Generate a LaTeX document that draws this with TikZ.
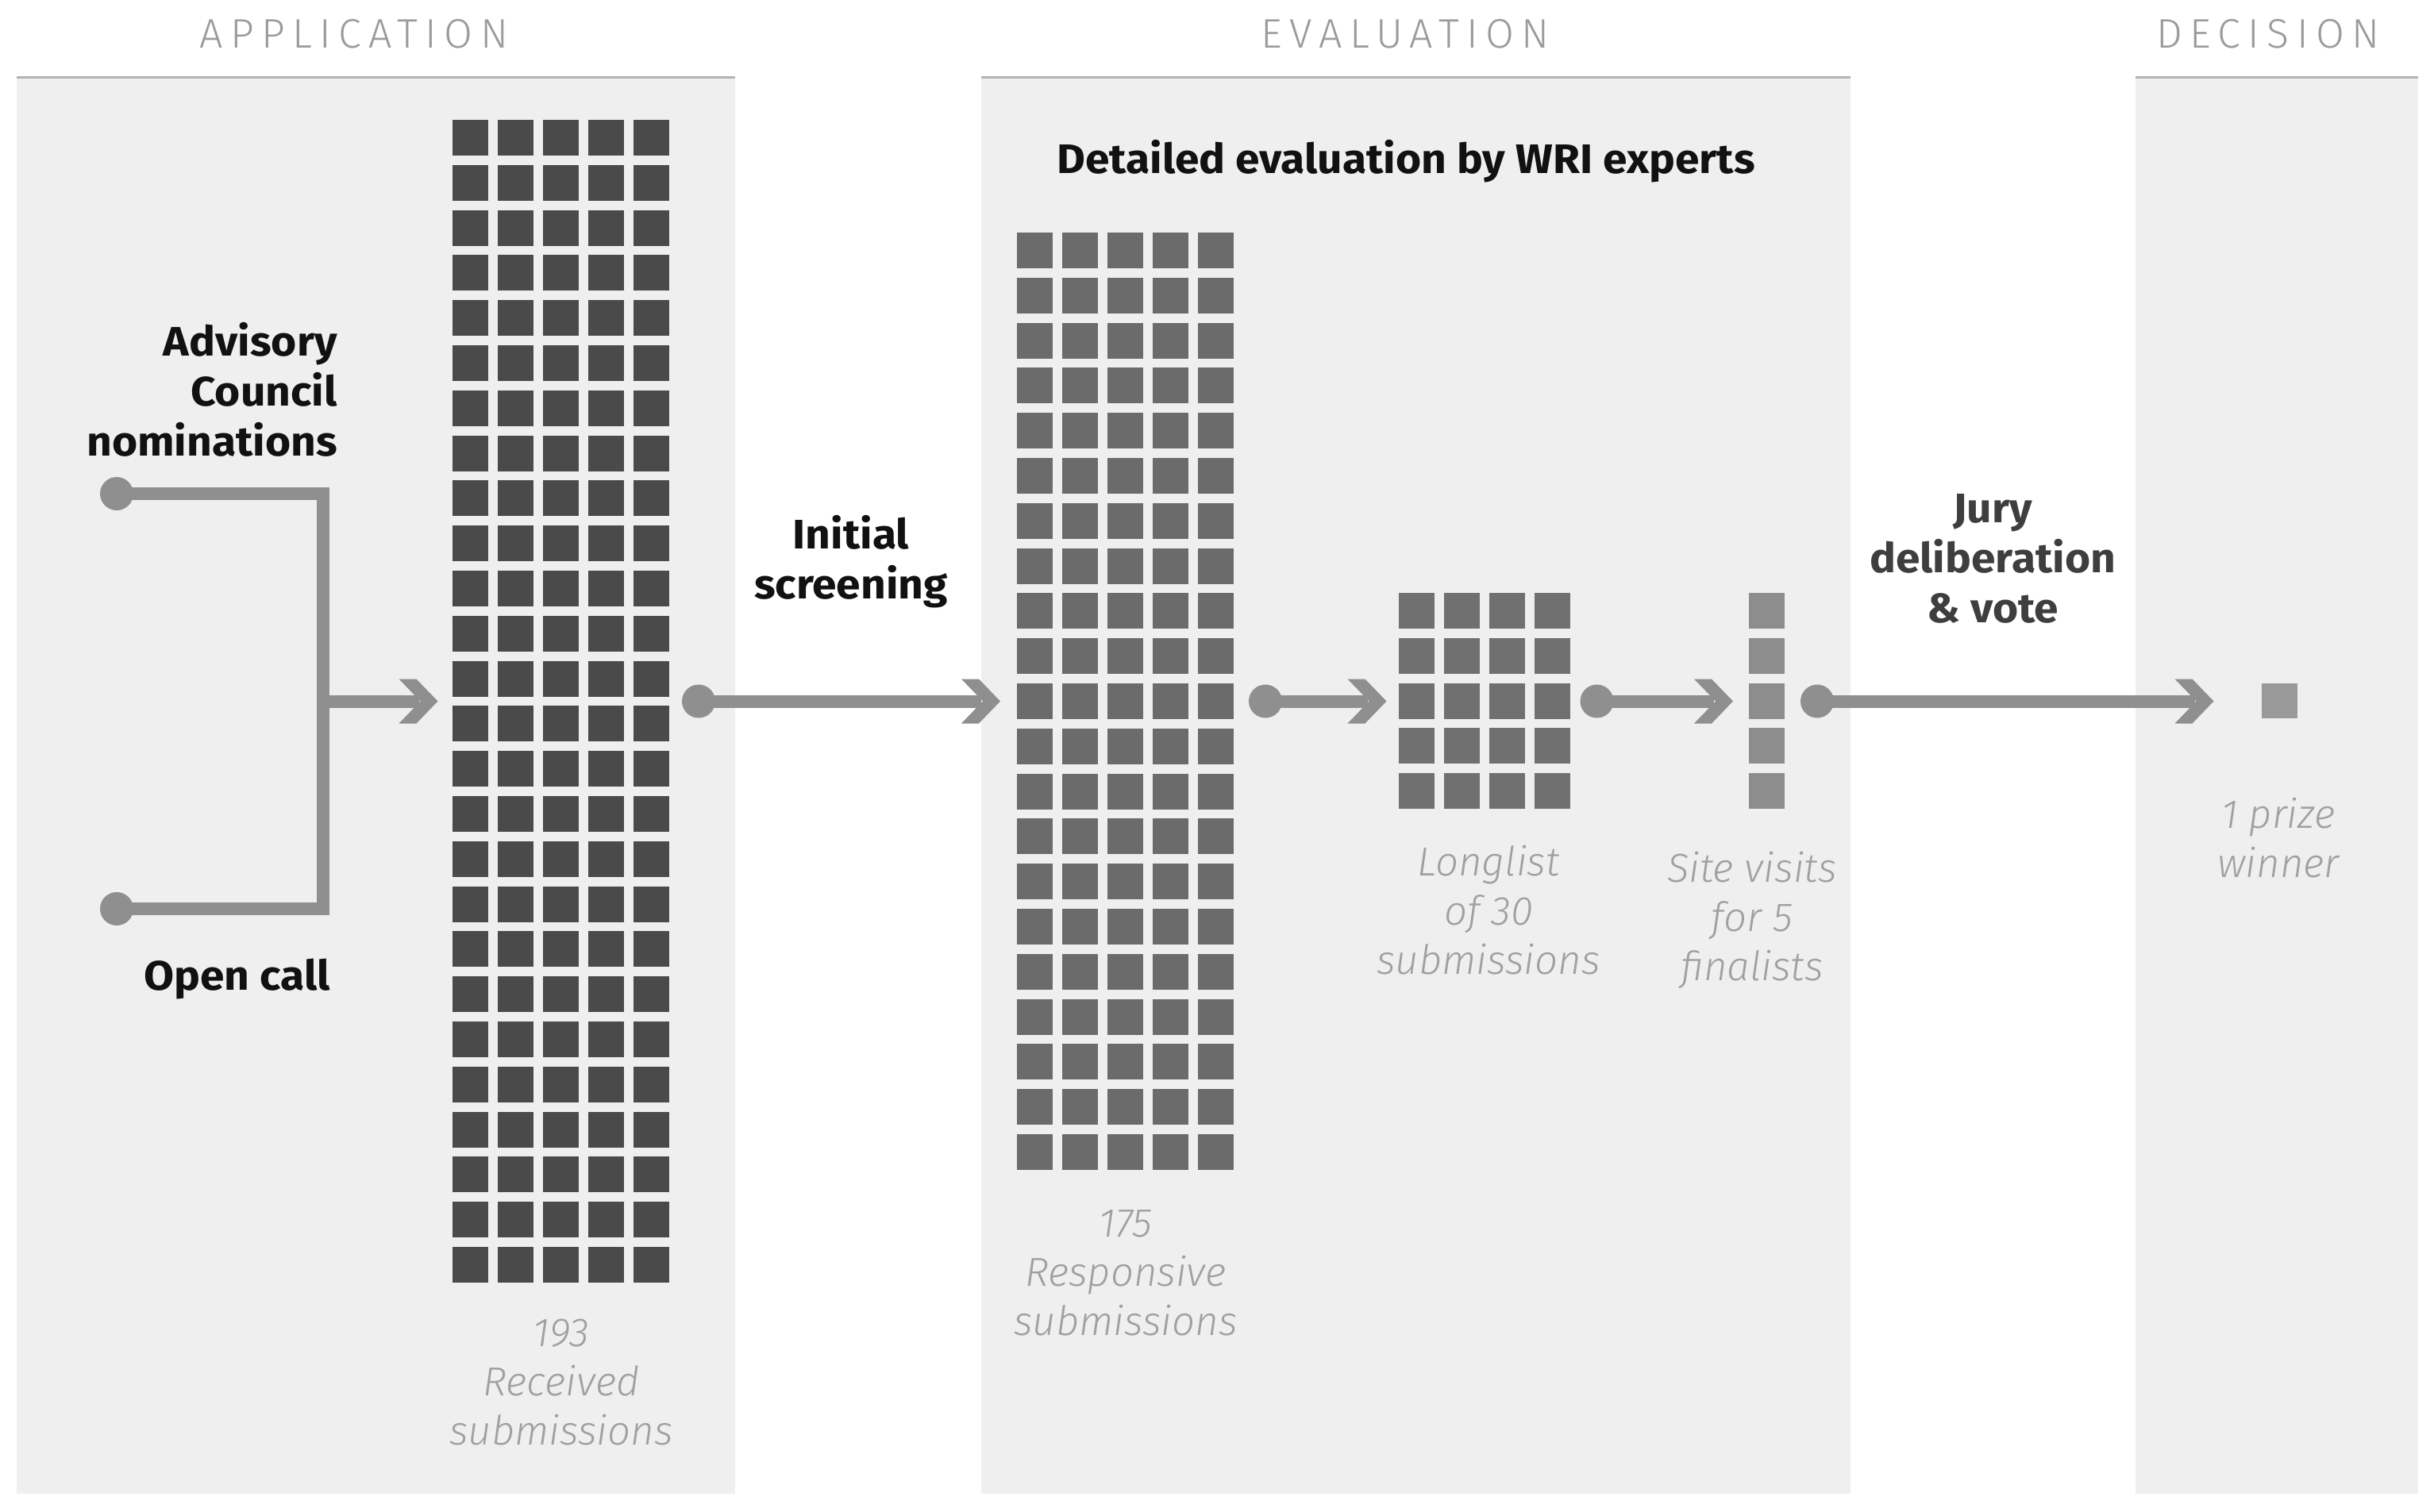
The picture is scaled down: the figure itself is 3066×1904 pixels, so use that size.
\documentclass[tikz,border=0pt]{standalone}
\usepackage{fontspec}
\setmainfont{Fira Sans}
\newfontfamily\hdrfont{Fira Sans Light}[LetterSpace=18]
\newfontfamily\bfont{Fira Sans Bold}[FakeStretch=1.06]
\newfontfamily\itfont{Fira Sans Light Italic}
\definecolor{panelbg}{HTML}{EFEFEF}
\definecolor{linegrey}{HTML}{B3B3B3}
\definecolor{hdrgrey}{HTML}{9B9B9B}
\definecolor{gA}{HTML}{4A4A4A}
\definecolor{gB}{HTML}{6B6B6B}
\definecolor{gC}{HTML}{707070}
\definecolor{gD}{HTML}{8D8D8D}
\definecolor{gE}{HTML}{999999}
\definecolor{arrowgrey}{HTML}{8F8F8F}
\definecolor{lblack}{HTML}{111111}
\definecolor{jurygrey}{HTML}{3E3E3E}
\definecolor{itgrey}{HTML}{A0A0A0}
\newcommand\sqgrid[5]{%
  \foreach \ci in {0,...,#3}{\foreach \ri in {0,...,#4}{%
    \fill[#5] ({#1+57*\ci},{#2+56.8*\ri}) rectangle ++(45,45);}}}
\newcommand\chev[1]{%
  \fill[arrowgrey, shift={(#1)}] (-49,-28) -- (-27,-28) -- (0,0) -- (-27,28) -- (-49,28) -- (-22,0) -- cycle;}
\begin{document}
\begin{tikzpicture}[x=1pt,y=-1pt,
  topline/.style={draw=linegrey, line width=3pt},
  flow/.style={draw=arrowgrey, line width=16pt, line join=miter},
  dotnode/.style={circle, fill=arrowgrey, minimum size=42pt, inner sep=0pt},
  hdr/.style={font=\hdrfont\fontsize{52}{60}\selectfont, text=hdrgrey, anchor=base, inner sep=0pt},
  blab/.style={font=\bfont\fontsize{52}{63}\selectfont, text=lblack, anchor=base, inner sep=0pt},
  ilab/.style={font=\itfont\fontsize{51}{62}\selectfont, text=itgrey, anchor=base, inner sep=0pt, align=center},
]
\useasboundingbox (0,0) rectangle (3066,1904);
\fill[white] (0,0) rectangle (3066,1904);
% panels
\fill[panelbg] (21,97) rectangle (926,1882);
\fill[panelbg] (1236,97) rectangle (2331,1882);
\fill[panelbg] (2690,97) rectangle (3046,1882);
\draw[topline] (21,97) -- (926,97);
\draw[topline] (1236,97) -- (2331,97);
\draw[topline] (2690,97) -- (3046,97);
% headers
\node[hdr] (hApp) at (446,60) {APPLICATION};
\node[hdr] (hEval) at (1770,60) {EVALUATION};
\node[hdr] (hDec) at (2857,60) {DECISION};
% grids
\sqgrid{570}{151}{4}{25}{gA}
\sqgrid{1281}{293}{4}{20}{gB}
\sqgrid{1762}{747}{3}{4}{gC}
\sqgrid{2203}{747}{0}{4}{gD}
\fill[gE] (2849,861) rectangle ++(45,44);
% bracket
\node[dotnode] (dA) at (147,622) {};
\node[dotnode] (dB) at (147,1145) {};
\coordinate (cA) at (407,622);
\coordinate (cB) at (407,1145);
\coordinate (cM) at (407,883.5);
\coordinate (tB) at (551.5,883.5);
\draw[flow] (dA.center) -- (cA) -- (cB) -- (dB.center);
\draw[flow] (cM) -- ([xshift=-24pt]tB);
\chev{tB}
% arrows
\node[dotnode] (d0) at (880,883.5) {};
\coordinate (t0) at (1260,883.5);
\draw[flow] (d0.center) -- ([xshift=-24pt]t0);
\chev{t0}
\node[dotnode] (d1) at (1594,883.5) {};
\coordinate (t1) at (1746.5,883.5);
\draw[flow] (d1.center) -- ([xshift=-24pt]t1);
\chev{t1}
\node[dotnode] (d2) at (2011.5,883.5) {};
\coordinate (t2) at (2183,883.5);
\draw[flow] (d2.center) -- ([xshift=-24pt]t2);
\chev{t2}
\node[dotnode] (d3) at (2289,883.5) {};
\coordinate (t3) at (2788.5,883.5);
\draw[flow] (d3.center) -- ([xshift=-24pt]t3);
\chev{t3}
% bold labels (base anchor = baseline of last line)
\node[blab, anchor=base east, align=right] (lAdv) at (425,574) {Advisory\\Council\\nominations};
\node[blab, anchor=base east] (lOpen) at (416,1247) {Open call};
\node[blab, align=center] (lInit) at (1072,754) {Initial\\screening};
\node[blab] (lDet) at (1771,218) {Detailed evaluation by WRI experts};
\node[blab, align=center, text=jurygrey] (lJury) at (2510,784) {Jury\\deliberation\\\& vote};
% italic labels
\node[ilab] (l193) at (707,1820) {193\\Received\\submissions};
\node[ilab] (l175) at (1418,1682) {175\\Responsive\\submissions};
\node[ilab] (lLong) at (1875,1227) {Longlist\\of 30\\submissions};
\node[ilab] (lSite) at (2207,1235) {Site visits\\for 5\\finalists};
\node[ilab] (lWin) at (2870,1105) {1 prize\\winner};
\end{tikzpicture}
\end{document}
